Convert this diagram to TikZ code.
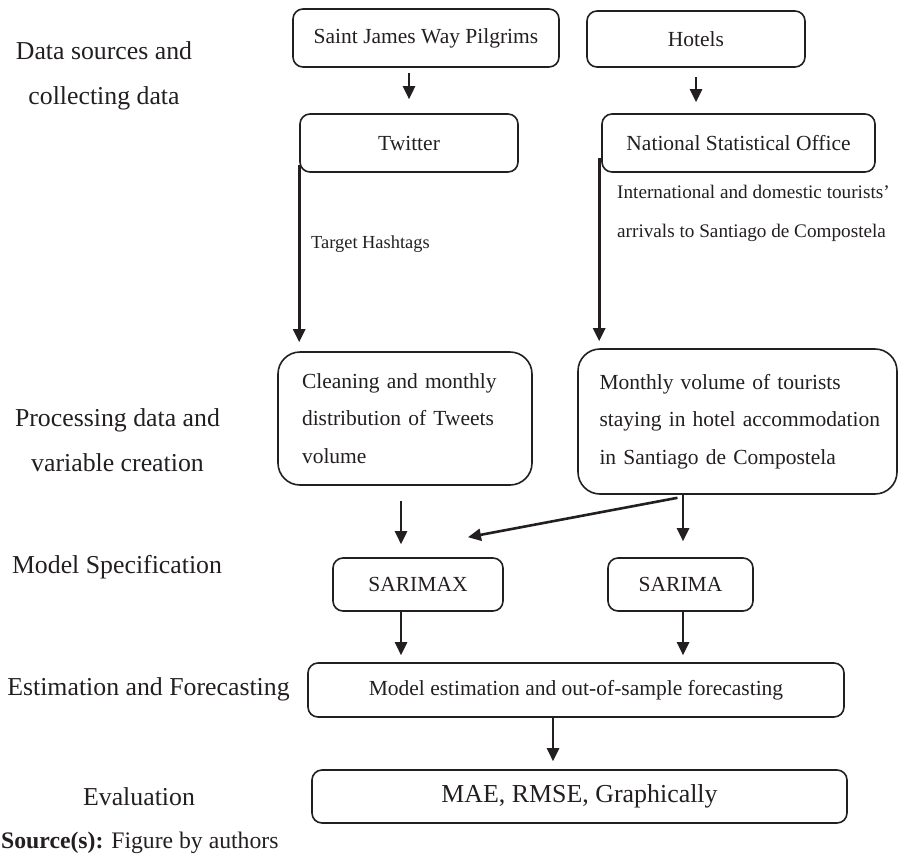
\documentclass[tikz,border=0pt]{standalone}
\usepackage{fontspec}
\setmainfont{Liberation Serif}
\usetikzlibrary{arrows.meta}
\definecolor{ink}{RGB}{35,31,32}

\begin{document}
\begin{tikzpicture}[x=1pt, y=-1pt, >={Triangle[length=13pt,width=12pt]},
    box/.style={draw=ink, line width=1.6pt, rounded corners=10pt, inner sep=0pt, text=ink, font=\fontsize{21.5}{26}\selectfont},
    bigbox/.style={box, rounded corners=22pt, align=left, font=\fontsize{21.5}{37.5}\selectfont},
    arr/.style={->, draw=ink, line width=2.6pt},
    stage/.style={text=ink, align=center, font=\fontsize{25.8}{45}\selectfont},
    note/.style={text=ink, anchor=west, align=left, inner sep=0pt}]
	\useasboundingbox (0,0) rectangle (900,860);

	% stages
	\node[stage] (stage1) at (104,75.5) {Data sources and\\collecting data};
	\node[stage] (stage2) at (117.5,440.5) {Processing data and\\variable creation};
	\node[stage] (stage3) at (117,567) {Model Specification};
	\node[stage] (stage4) at (148.5,689) {Estimation and Forecasting};
	\node[stage] (stage5) at (139,797) {Evaluation};

	% boxes
	\node[box, minimum width=266pt, minimum height=58pt] (pilgrims) at (426,38) {Saint James Way Pilgrims};
	\node[box, minimum width=218pt, minimum height=56pt] (hotels) at (696,39) {Hotels};
	\node[box, minimum width=218pt, minimum height=58pt] (twitter) at (409,143) {Twitter};
	\node[box, minimum width=273pt, minimum height=58pt] (nso) at (738.5,143) {National Statistical Office};
	\node[bigbox, text width=206pt, inner xsep=24pt, minimum height=133pt] (cleaning) at (405,418.5)
		{Cleaning and monthly\\distribution of Tweets\\volume};
	\node[bigbox, text width=276pt, inner xsep=21.5pt, minimum height=145pt] (monthly) at (737.5,421.5)
		{Monthly volume of tourists\\\mbox{staying in hotel accommodation}\\in Santiago de Compostela};
	\node[box, minimum width=170pt, minimum height=53pt] (sarimax) at (418,584.5) {SARIMAX};
	\node[box, minimum width=145pt, minimum height=53pt] (sarima) at (680.5,584.5) {SARIMA};
	\node[box, minimum width=536pt, minimum height=54pt] (model) at (576,690) {Model estimation and out-of-sample forecasting};
	\node[box, minimum width=535pt, minimum height=53pt, font=\fontsize{25.9}{30}\selectfont] (mae) at (579.5,796.5) {MAE, RMSE, Graphically};

	% labels on the long arrows
	\node[note, font=\fontsize{18.4}{22}\selectfont] (hashtags) at (311,244) {Target Hashtags};
	\node[note, font=\fontsize{19.2}{39}\selectfont] (arrivals) at (617,213)
		{International and domestic tourists'\\arrivals to Santiago de Compostela};

	% arrows
	\draw[arr, shorten <=5pt, shorten >=14pt] (twitter.north |- pilgrims.south) -- (twitter.north);
	\draw[arr, shorten <=9pt, shorten >=11pt] (hotels.south) -- (hotels.south |- nso.north);
	\draw[arr, shorten >=9pt] ([yshift=8pt]twitter.south west) -- (twitter.south west |- cleaning.north);
	\draw[arr, shorten >=7pt] ([shift={(-2pt,15pt)}]nso.south west) -- ([xshift=-2pt]nso.south west |- monthly.north);
	\draw[arr, shorten <=15pt, shorten >=13pt] ([xshift=-17pt]sarimax.north |- cleaning.south) -- ([xshift=-17pt]sarimax.north);
	\draw[arr, shorten >=16pt] ([xshift=2.5pt]sarima.north |- monthly.south) -- ([xshift=2.5pt]sarima.north);
	\draw[arr] ([shift={(-60pt,-3pt)}]monthly.south) -- ([shift={(50pt,20pt)}]sarimax.north);
	\draw[arr, shorten >=7pt] ([xshift=-17pt]sarimax.south) -- ([xshift=-17pt]sarimax.south |- model.north);
	\draw[arr, shorten >=7pt] ([xshift=2.5pt]sarima.south) -- ([xshift=2.5pt]sarima.south |- model.north);
	\draw[arr, shorten >=8pt] ([xshift=-23pt]model.south) -- ([xshift=-23pt]model.south |- mae.north);

	\node[note, font=\fontsize{23.7}{28}\selectfont] (source) at (1,843) {\textbf{Source(s):} Figure by authors};
\end{tikzpicture}
\end{document}
